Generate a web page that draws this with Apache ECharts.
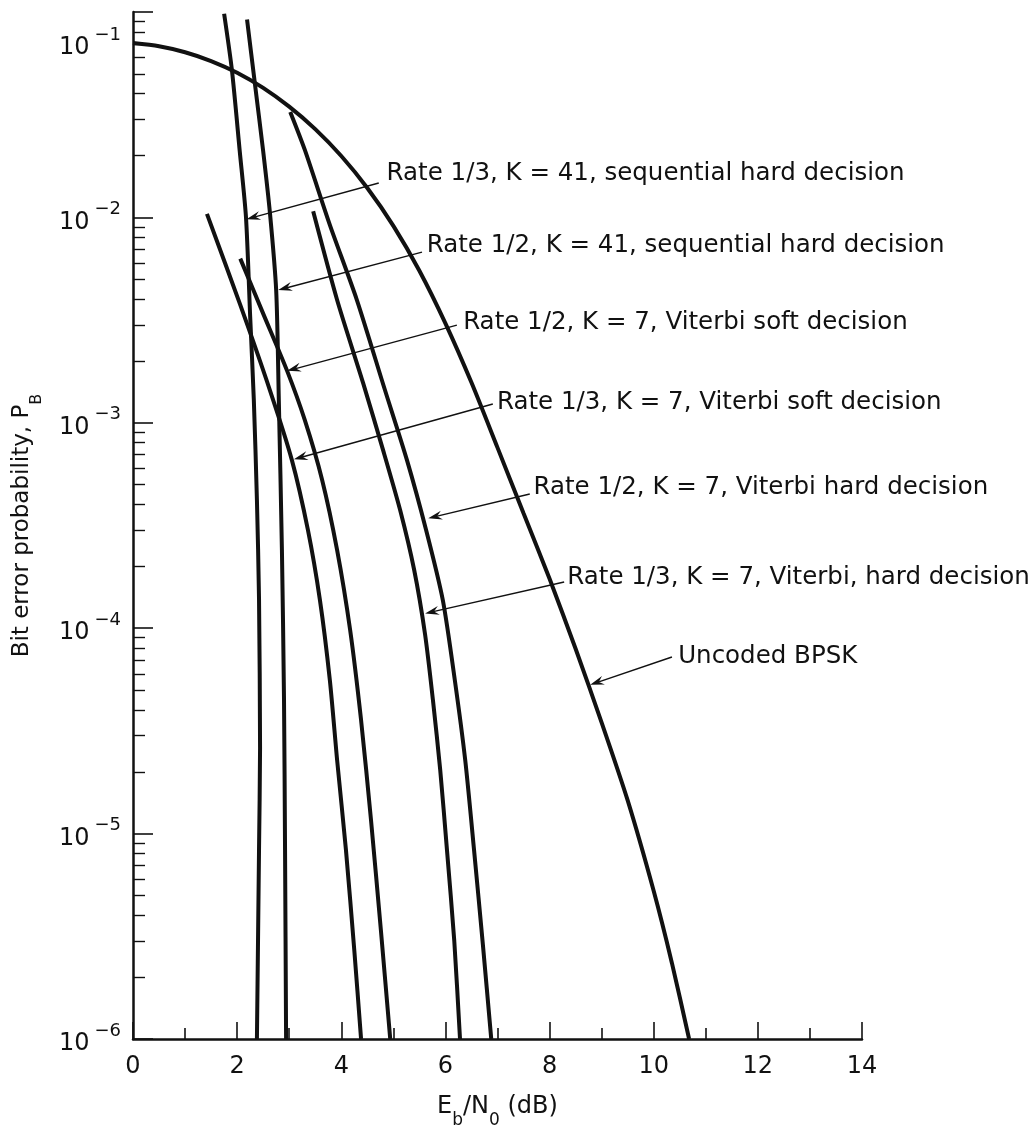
<!DOCTYPE html>
<html>
<head>
<meta charset="utf-8">
<title>Bit error probability vs Eb/N0</title>
<script src="https://cdn.jsdelivr.net/npm/echarts@6/dist/echarts.min.js"></script>
<style>
  html, body { margin: 0; padding: 0; background: #fff; }
  #chart { width: 1032px; height: 1136px; }
</style>
</head>
<body>
<div id="chart"></div>
<script>
// axis ticks
const xTicks = [0, 2, 4, 6, 8, 10, 12, 14];
const yExponents = [-6, -5, -4, -3, -2, -1];

// curves: Eb/N0 (dB) and bit error probability
const uncodedEbN0 = [0, 0.5, 1, 1.5, 2, 2.5, 3, 3.5, 4, 4.5, 5, 5.5, 6, 6.5, 7, 7.5, 8, 8.5, 9, 9.5, 10, 10.35, 10.68];
const uncodedPb = [0.0706, 0.0681, 0.0637, 0.0577, 0.0506, 0.0427, 0.0346, 0.0269, 0.0199, 0.0139, 9.1e-3, 5.5e-3, 3.05e-3, 1.57e-3, 7.57e-4, 3.63e-4, 1.74e-4, 7.94e-5, 3.47e-5, 1.45e-5, 5.25e-6, 2.34e-6, 1e-6];

const seq13EbN0 = [1.75, 1.90, 2.05, 2.17, 2.25, 2.32, 2.38, 2.42, 2.44, 2.42, 2.38];
const seq13Pb = [0.098, 0.052, 0.021, 0.010, 3.3e-3, 1.3e-3, 4.2e-4, 1.4e-4, 2.6e-5, 8.3e-6, 1e-6];

const seq12EbN0 = [2.19, 2.34, 2.50, 2.63, 2.75, 2.80, 2.86, 2.90, 2.92, 2.94];
const seq12Pb = [0.092, 0.045, 0.021, 0.0105, 4.4e-3, 1.3e-3, 2.4e-4, 4.5e-5, 8.3e-6, 1e-6];

const soft13EbN0 = [1.42, 2.06, 2.63, 3.05, 3.36, 3.59, 3.78, 3.92, 4.09, 4.25, 4.38];
const soft13Pb = [0.0104, 3.75e-3, 1.44e-3, 6.6e-4, 3.0e-4, 1.37e-4, 5.6e-5, 2.28e-5, 8.3e-6, 2.7e-6, 1e-6];

const soft12EbN0 = [2.06, 2.50, 2.96, 3.30, 3.63, 3.92, 4.17, 4.38, 4.57, 4.76, 4.94];
const soft12Pb = [6.3e-3, 3.4e-3, 1.79e-3, 1.03e-3, 5.3e-4, 2.4e-4, 9.8e-5, 3.57e-5, 1.17e-5, 3.4e-6, 1e-6];

const hard13EbN0 = [3.46, 3.92, 4.42, 4.80, 5.13, 5.40, 5.61, 5.76, 5.90, 6.03, 6.17, 6.28];
const hard13Pb = [0.0107, 3.96e-3, 1.56e-3, 7.4e-4, 3.76e-4, 1.92e-4, 9.3e-5, 4.47e-5, 2.04e-5, 8.3e-6, 3.0e-6, 1e-6];

const hard12EbN0 = [3.02, 3.30, 3.78, 4.30, 4.84, 5.26, 5.63, 5.95, 6.18, 6.38, 6.55, 6.72, 6.88];
const hard12Pb = [0.0326, 0.0213, 9.2e-3, 3.96e-3, 1.44e-3, 6.6e-4, 3.0e-4, 1.37e-4, 5.6e-5, 2.28e-5, 8.3e-6, 2.87e-6, 1e-6];

// callouts: label anchor, start of leader line, arrow tip (data coordinates)
const annotations = [
  { text: 'Rate 1/3, K = 41, sequential hard decision', label: [4.87, 0.0164], from: [4.72, 0.0147], tip: [2.18, 9.8e-3] },
  { text: 'Rate 1/2, K = 41, sequential hard decision', label: [5.64, 7.3e-3], from: [5.55, 6.78e-3], tip: [2.79, 4.43e-3] },
  { text: 'Rate 1/2, K = 7, Viterbi soft decision', label: [6.34, 3.08e-3], from: [6.22, 2.99e-3], tip: [2.96, 1.79e-3] },
  { text: 'Rate 1/3, K = 7, Viterbi soft decision', label: [6.99, 1.256e-3], from: [6.91, 1.235e-3], tip: [3.09, 6.64e-4] },
  { text: 'Rate 1/2, K = 7, Viterbi hard decision', label: [7.69, 4.84e-4], from: [7.62, 4.5e-4], tip: [5.67, 3.43e-4] },
  { text: 'Rate 1/3, K = 7, Viterbi, hard decision', label: [8.34, 1.755e-4], from: [8.28, 1.678e-4], tip: [5.61, 1.18e-4] },
  { text: 'Uncoded BPSK', label: [10.47, 7.24e-5], from: [10.35, 7.24e-5], tip: [8.78, 5.3e-5] },
]

const ink = '#111'
const font = '"DejaVu Sans", sans-serif'

const yMajor = yExponents.map((e) => Math.pow(10, e))
const yMinor = []
yExponents.slice(0, -1).forEach((e) => {
  for (let k = 2; k <= 9; k++) yMinor.push(k * Math.pow(10, e))
})

const curves = [
  [uncodedEbN0, uncodedPb],
  [seq13EbN0, seq13Pb],
  [seq12EbN0, seq12Pb],
  [soft13EbN0, soft13Pb],
  [soft12EbN0, soft12Pb],
  [hard13EbN0, hard13Pb],
  [hard12EbN0, hard12Pb],
]

const expRich = {
  b: { fontSize: 24, fontFamily: font, color: ink, lineHeight: 34, verticalAlign: 'bottom' },
  e: { fontSize: 18, fontFamily: font, color: ink, lineHeight: 20, verticalAlign: 'top', padding: [0, 0, 0, 5] },
  sp: { fontSize: 10, lineHeight: 62 },
}

// subscripts: main text at top of the line, small text pushed to the bottom
const subRich = (size) => ({
  t: { fontSize: size, fontFamily: font, color: ink, lineHeight: 34, verticalAlign: 'top' },
  s: { fontSize: Math.round(size * 0.7), fontFamily: font, color: ink, lineHeight: 20, verticalAlign: 'bottom' },
})

const chart = echarts.init(document.getElementById('chart'))

chart.setOption({
  animation: false,
  backgroundColor: '#fff',
  grid: { left: 133, right: 170, top: 12, bottom: 97, containLabel: false, outerBoundsMode: 'none' },
  xAxis: {
    type: 'value',
    min: xTicks[0],
    max: xTicks[xTicks.length - 1],
    interval: 2,
    name: '{t|E}{s|b}{t|/N}{s|0}{t| (dB)}',
    nameLocation: 'middle',
    nameGap: 56,
    nameTextStyle: { rich: subRich(24) },
    axisLine: { lineStyle: { color: ink, width: 2.5 } },
    axisTick: { inside: true, length: 17, lineStyle: { color: ink, width: 1.6 } },
    minorTick: { show: true, splitNumber: 2, length: 11, lineStyle: { color: ink, width: 1.6 } },
    axisLabel: { color: ink, fontSize: 24, fontFamily: font, margin: 16 },
    splitLine: { show: false },
  },
  yAxis: [
    {
      type: 'log',
      logBase: 10,
      min: yMajor[0],
      max: yMajor[yMajor.length - 1],
      position: 'left',
      name: '{t|Bit error probability, P}{s|B}',
      nameLocation: 'middle',
      nameRotate: 90,
      nameGap: 88,
      nameTextStyle: { rich: subRich(23) },
      axisLine: { show: true, lineStyle: { color: ink, width: 2.5 } },
      axisTick: { show: true, inside: true, length: 20, customValues: yMajor, lineStyle: { color: ink, width: 1.6 } },
      axisLabel: {
        customValues: yMajor,
        margin: 12,
        rich: expRich,
        formatter: (v) => {
          const e = Math.round(Math.log10(v))
          const s = '{b|10}{e|\u2212' + -e + '}'
          // the 10^-1 label sits lower than its tick in the original figure
          return e === -1 ? '{sp| }\n' + s : s
        },
      },
      splitLine: { show: false },
    },
    {
      type: 'log',
      logBase: 10,
      min: yMajor[0],
      max: yMajor[yMajor.length - 1],
      position: 'left',
      axisLine: { show: false },
      axisTick: { show: true, inside: true, length: 12, customValues: yMinor, lineStyle: { color: ink, width: 1.4 } },
      axisLabel: { show: false },
      splitLine: { show: false },
    },
  ],
  series: curves.map(([xs, ys]) => ({
    type: 'line',
    xAxisIndex: 0,
    yAxisIndex: 0,
    data: xs.map((x, i) => [x, ys[i]]),
    showSymbol: false,
    smooth: 0.25,
    lineStyle: { color: ink, width: 4 },
  })),
})

// leader lines with arrowheads and callout text
const px = (p) => chart.convertToPixel({ xAxisIndex: 0, yAxisIndex: 0 }, p)
const elements = []
annotations.forEach((a) => {
  const s = px(a.from)
  const t = px(a.tip)
  const l = px(a.label)
  const dx = t[0] - s[0]
  const dy = t[1] - s[1]
  const len = Math.hypot(dx, dy)
  const ux = dx / len
  const uy = dy / len
  const nx = -uy
  const ny = ux
  const L = 14
  const W = 4.5
  elements.push({
    type: 'line',
    shape: { x1: s[0], y1: s[1], x2: t[0] - ux * 6, y2: t[1] - uy * 6 },
    style: { stroke: ink, lineWidth: 1.4 },
  })
  elements.push({
    type: 'polygon',
    shape: {
      points: [
        [t[0], t[1]],
        [t[0] - ux * L + nx * W, t[1] - uy * L + ny * W],
        [t[0] - ux * L * 0.65, t[1] - uy * L * 0.65],
        [t[0] - ux * L - nx * W, t[1] - uy * L - ny * W],
      ],
    },
    style: { fill: ink },
  })
  elements.push({
    type: 'text',
    x: l[0],
    y: l[1],
    style: { text: a.text, fontSize: 24.5, fontFamily: font, fill: ink, align: 'left', verticalAlign: 'middle' },
  })
})
chart.setOption({ graphic: { elements } })
</script>
</body>
</html>
